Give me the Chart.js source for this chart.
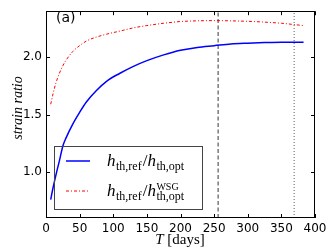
<!DOCTYPE html>
<html>
<head>
<meta charset="utf-8">
<script src="https://cdn.jsdelivr.net/npm/chart.js@4.4.0/dist/chart.umd.min.js"></script>
<style>
  html, body { margin: 0; padding: 0; background: #fff; }
  #wrap { width: 332px; height: 249px; }
</style>
</head>
<body>
<div id="wrap"><canvas id="chart" width="332" height="249"></canvas></div>
<script>
// datos
const days = [7, 10, 15, 20, 25, 30, 40, 50, 60, 75, 90, 110, 130, 150, 175, 200, 225, 250, 275, 300, 325, 350, 383];
const ratioOpt = [0.76, 0.85, 0.98, 1.10, 1.225, 1.30, 1.42, 1.52, 1.61, 1.71, 1.79, 1.86, 1.92, 1.97, 2.02, 2.06, 2.085, 2.10, 2.115, 2.122, 2.127, 2.13, 2.13];
const ratioWsg = [1.59, 1.67, 1.78, 1.86, 1.925, 1.975, 2.05, 2.10, 2.14, 2.175, 2.20, 2.227, 2.255, 2.275, 2.295, 2.31, 2.316, 2.318, 2.316, 2.312, 2.305, 2.295, 2.275];
const markDays = [256, 369];
const xTicks = [0, 50, 100, 150, 200, 250, 300, 350, 400];
const yTicks = [1.0, 1.5, 2.0];
const yMin = 0.6, yMax = 2.4;

const toPts = (xs, ys) => xs.map((x, i) => ({ x: x, y: ys[i] }));

// marcos, ticks hacia dentro, leyenda y textos
const decor = {
    id: 'decor',
    afterDraw(chart) {
        const ctx = chart.ctx;
        const a = chart.chartArea;
        const xs = chart.scales.x, ys = chart.scales.y;
        ctx.save();
        ctx.strokeStyle = '#000';
        ctx.lineWidth = 1;
        ctx.strokeRect(Math.round(a.left) + 0.5, Math.round(a.top) + 0.5,
            Math.round(a.right - a.left) - 1, Math.round(a.bottom - a.top) - 1);
        ctx.beginPath();
        xTicks.forEach(v => {
            const px = Math.round(xs.getPixelForValue(v)) + 0.5;
            ctx.moveTo(px, a.bottom); ctx.lineTo(px, a.bottom - 4);
            ctx.moveTo(px, a.top); ctx.lineTo(px, a.top + 4);
        });
        yTicks.forEach(v => {
            const py = Math.round(ys.getPixelForValue(v)) + 0.5;
            ctx.moveTo(a.left, py); ctx.lineTo(a.left + 4, py);
            ctx.moveTo(a.right, py); ctx.lineTo(a.right - 4, py);
        });
        ctx.stroke();

        // (a)
        ctx.fillStyle = '#000';
        ctx.font = '14px "DejaVu Sans"';
        ctx.textBaseline = 'alphabetic';
        ctx.textAlign = 'left';
        ctx.fillText('(a)', 56, 22);

        // etiqueta eje y
        ctx.save();
        ctx.translate(18, 108);
        ctx.rotate(-Math.PI / 2);
        ctx.font = 'italic 14px "Liberation Serif"';
        ctx.textAlign = 'center';
        ctx.fillText('strain ratio', 0, 4);
        ctx.restore();

        // etiqueta eje x
        ctx.font = 'italic 15px "Liberation Serif"';
        const wT = ctx.measureText('T').width;
        ctx.font = '15px "Liberation Serif"';
        const wD = ctx.measureText(' [days]').width;
        let x0 = 180 - (wT + wD) / 2;
        ctx.font = 'italic 15px "Liberation Serif"';
        ctx.fillText('T', x0, 244);
        ctx.font = '15px "Liberation Serif"';
        ctx.fillText(' [days]', x0 + wT, 244);

        // leyenda
        ctx.strokeStyle = '#444';
        ctx.strokeRect(54.5, 146.5, 148, 63);
        ctx.lineWidth = 1.5;
        ctx.strokeStyle = '#0000ff';
        ctx.beginPath(); ctx.moveTo(66, 161); ctx.lineTo(90, 161); ctx.stroke();
        ctx.strokeStyle = '#ff0000';
        ctx.lineWidth = 1;
        ctx.setLineDash([3, 2, 1, 2]);
        ctx.beginPath(); ctx.moveTo(66, 191); ctx.lineTo(90, 191); ctx.stroke();
        ctx.setLineDash([]);

        drawRatio(ctx, 107, 165.5, false);
        drawRatio(ctx, 107, 196, true);
        ctx.restore();
    }
};

function drawRatio(ctx, x, base, wsg) {
    ctx.fillStyle = '#000';
    const big = 17, small = 12;
    ctx.font = 'italic ' + big + 'px "Liberation Serif"';
    ctx.fillText('h', x, base); x += ctx.measureText('h').width + 0.5;
    ctx.font = small + 'px "Liberation Serif"';
    ctx.fillText('th,ref', x, base + 4); x += ctx.measureText('th,ref').width + 1;
    ctx.font = big + 'px "Liberation Serif"';
    ctx.fillText('/', x, base); x += ctx.measureText('/').width;
    ctx.font = 'italic ' + big + 'px "Liberation Serif"';
    ctx.fillText('h', x, base); x += ctx.measureText('h').width + 0.5;
    ctx.font = small + 'px "Liberation Serif"';
    ctx.fillText('th,opt', x, base + 4);
    if (wsg) {
        ctx.font = '10px "Liberation Serif"';
        ctx.fillText('WSG', x, base - 6);
    }
}

new Chart(document.getElementById('chart'), {
    type: 'scatter',
    data: {
        datasets: [{
            data: toPts(days, ratioOpt),
            showLine: true,
            borderColor: '#0000ff',
            borderWidth: 1.5,
            pointRadius: 0,
            cubicInterpolationMode: 'monotone'
        }, {
            data: toPts(days, ratioWsg),
            showLine: true,
            borderColor: '#ff0000',
            borderWidth: 1,
            borderDash: [3, 2, 1, 2],
            pointRadius: 0,
            cubicInterpolationMode: 'monotone'
        }, {
            data: [{ x: markDays[0], y: yMin }, { x: markDays[0], y: yMax }],
            showLine: true,
            borderColor: '#7a7a7a',
            borderWidth: 1.5,
            borderDash: [4, 2.5],
            pointRadius: 0
        }, {
            data: [{ x: markDays[1], y: yMin }, { x: markDays[1], y: yMax }],
            showLine: true,
            borderColor: '#333',
            borderWidth: 0.8,
            borderDash: [1, 2],
            pointRadius: 0
        }]
    },
    options: {
        responsive: false,
        animation: false,
        layout: { padding: { top: 4, right: 17, left: 0, bottom: 0 } },
        plugins: { legend: { display: false }, tooltip: { enabled: false } },
        scales: {
            x: {
                type: 'linear',
                min: 0, max: 400,
                afterBuildTicks: s => { s.ticks = xTicks.map(v => ({ value: v })); },
                afterFit: s => { s.height = 31; },
                grid: { display: false, drawTicks: false },
                border: { display: false },
                ticks: { padding: 4, color: '#000', font: { family: 'DejaVu Sans', size: 12 }, maxRotation: 0 }
            },
            y: {
                min: yMin, max: yMax,
                afterBuildTicks: s => { s.ticks = yTicks.map(v => ({ value: v })); },
                afterFit: s => { s.width = 46; },
                grid: { display: false, drawTicks: false },
                border: { display: false },
                ticks: { padding: 4, color: '#000', font: { family: 'DejaVu Sans', size: 12 },
                    callback: v => v.toFixed(1) }
            }
        }
    },
    plugins: [decor]
});
</script>
</body>
</html>
